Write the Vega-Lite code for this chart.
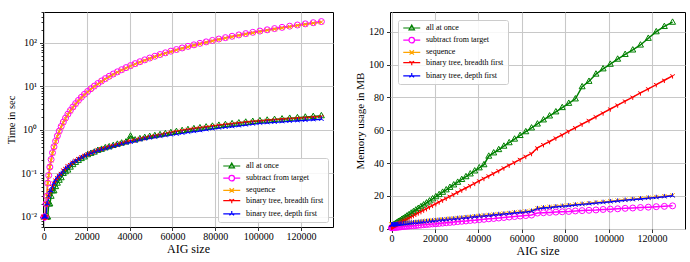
{
  "$schema": "https://vega.github.io/schema/vega-lite/v6.json",
  "padding": {"left": 6, "top": 6, "right": 4, "bottom": 4},
  "spacing": 20,
  "config": {
    "font": "Liberation Serif",
    "view": {"stroke": "#000000", "strokeWidth": 1},
    "axis": {
      "labelFont": "Liberation Serif", "titleFont": "Liberation Serif",
      "labelFontSize": 10, "titleFontSize": 12, "titleFontWeight": "normal",
      "labelColor": "#000000", "titleColor": "#000000",
      "tickColor": "#000000", "tickSize": 3.5, "tickWidth": 0.8,
      "domain": false, "gridColor": "#c8c8c8", "gridWidth": 1.1,
      "labelFlush": false, "labelOverlap": false
    },
    "axisX": {"labelPadding": 1, "titlePadding": 1.5},
    "axisY": {"labelPadding": 3, "titlePadding": 4},
    "legend": {
      "labelFont": "Liberation Serif", "labelFontSize": 8, "labelColor": "#000000",
      "symbolSize": 30, "symbolStrokeWidth": 1.2, "rowPadding": 1.2, "padding": 4,
      "labelOffset": 16, "strokeColor": "#cccccc", "fillColor": "rgba(255,255,255,0.85)",
      "cornerRadius": 2
    }
  },
  "resolve": {"scale": {"color": "independent"}},
  "datasets": {
    "time": [
      {"size": 28, "all at once": 0.01, "subtract from target": 0.01, "sequence": 0.01, "binary tree, breadth first": 0.01, "binary tree, depth first": 0.01},
      {"size": 112, "all at once": 0.01, "subtract from target": 0.01, "sequence": 0.01, "binary tree, breadth first": 0.01, "binary tree, depth first": 0.01},
      {"size": 252, "all at once": 0.01, "subtract from target": 0.01, "sequence": 0.01, "binary tree, breadth first": 0.01, "binary tree, depth first": 0.01},
      {"size": 448, "all at once": 0.01, "subtract from target": 0.01, "sequence": 0.01, "binary tree, breadth first": 0.01, "binary tree, depth first": 0.01},
      {"size": 700, "all at once": 0.01, "subtract from target": 0.01, "sequence": 0.01, "binary tree, breadth first": 0.01, "binary tree, depth first": 0.01},
      {"size": 1008, "all at once": 0.01, "subtract from target": 0.02, "sequence": 0.02, "binary tree, breadth first": 0.01, "binary tree, depth first": 0.01},
      {"size": 1372, "all at once": 0.01, "subtract from target": 0.03, "sequence": 0.03, "binary tree, breadth first": 0.02, "binary tree, depth first": 0.02},
      {"size": 1792, "all at once": 0.01, "subtract from target": 0.06, "sequence": 0.06, "binary tree, breadth first": 0.02, "binary tree, depth first": 0.02},
      {"size": 2268, "all at once": 0.02, "subtract from target": 0.09, "sequence": 0.09, "binary tree, breadth first": 0.03, "binary tree, depth first": 0.03},
      {"size": 2800, "all at once": 0.02, "subtract from target": 0.14, "sequence": 0.14, "binary tree, breadth first": 0.04, "binary tree, depth first": 0.04},
      {"size": 3388, "all at once": 0.03, "subtract from target": 0.21, "sequence": 0.2, "binary tree, breadth first": 0.04, "binary tree, depth first": 0.04},
      {"size": 4032, "all at once": 0.04, "subtract from target": 0.3, "sequence": 0.29, "binary tree, breadth first": 0.05, "binary tree, depth first": 0.05},
      {"size": 4732, "all at once": 0.04, "subtract from target": 0.41, "sequence": 0.4, "binary tree, breadth first": 0.06, "binary tree, depth first": 0.06},
      {"size": 5488, "all at once": 0.05, "subtract from target": 0.55, "sequence": 0.53, "binary tree, breadth first": 0.07, "binary tree, depth first": 0.07},
      {"size": 6300, "all at once": 0.06, "subtract from target": 0.73, "sequence": 0.7, "binary tree, breadth first": 0.08, "binary tree, depth first": 0.08},
      {"size": 7168, "all at once": 0.07, "subtract from target": 0.94, "sequence": 0.91, "binary tree, breadth first": 0.09, "binary tree, depth first": 0.09},
      {"size": 8092, "all at once": 0.08, "subtract from target": 1.2, "sequence": 1.16, "binary tree, breadth first": 0.1, "binary tree, depth first": 0.1},
      {"size": 9072, "all at once": 0.1, "subtract from target": 1.51, "sequence": 1.46, "binary tree, breadth first": 0.12, "binary tree, depth first": 0.11},
      {"size": 10108, "all at once": 0.11, "subtract from target": 1.87, "sequence": 1.81, "binary tree, breadth first": 0.13, "binary tree, depth first": 0.13},
      {"size": 11200, "all at once": 0.12, "subtract from target": 2.3, "sequence": 2.23, "binary tree, breadth first": 0.15, "binary tree, depth first": 0.14},
      {"size": 12348, "all at once": 0.14, "subtract from target": 2.79, "sequence": 2.7, "binary tree, breadth first": 0.16, "binary tree, depth first": 0.16},
      {"size": 13552, "all at once": 0.16, "subtract from target": 3.36, "sequence": 3.26, "binary tree, breadth first": 0.18, "binary tree, depth first": 0.18},
      {"size": 14812, "all at once": 0.18, "subtract from target": 4.02, "sequence": 3.9, "binary tree, breadth first": 0.2, "binary tree, depth first": 0.19},
      {"size": 16128, "all at once": 0.2, "subtract from target": 4.76, "sequence": 4.62, "binary tree, breadth first": 0.22, "binary tree, depth first": 0.21},
      {"size": 17500, "all at once": 0.22, "subtract from target": 5.61, "sequence": 5.44, "binary tree, breadth first": 0.24, "binary tree, depth first": 0.23},
      {"size": 18928, "all at once": 0.24, "subtract from target": 6.56, "sequence": 6.36, "binary tree, breadth first": 0.26, "binary tree, depth first": 0.25},
      {"size": 20412, "all at once": 0.27, "subtract from target": 7.63, "sequence": 7.4, "binary tree, breadth first": 0.28, "binary tree, depth first": 0.27},
      {"size": 21952, "all at once": 0.29, "subtract from target": 8.82, "sequence": 8.56, "binary tree, breadth first": 0.3, "binary tree, depth first": 0.29},
      {"size": 23548, "all at once": 0.31, "subtract from target": 10.15, "sequence": 9.85, "binary tree, breadth first": 0.32, "binary tree, depth first": 0.31},
      {"size": 25200, "all at once": 0.34, "subtract from target": 11.62, "sequence": 11.27, "binary tree, breadth first": 0.35, "binary tree, depth first": 0.33},
      {"size": 26908, "all at once": 0.36, "subtract from target": 13.25, "sequence": 12.85, "binary tree, breadth first": 0.37, "binary tree, depth first": 0.35},
      {"size": 28672, "all at once": 0.39, "subtract from target": 15.05, "sequence": 14.6, "binary tree, breadth first": 0.39, "binary tree, depth first": 0.37},
      {"size": 30492, "all at once": 0.41, "subtract from target": 17.02, "sequence": 16.51, "binary tree, breadth first": 0.42, "binary tree, depth first": 0.39},
      {"size": 32368, "all at once": 0.44, "subtract from target": 19.18, "sequence": 18.6, "binary tree, breadth first": 0.44, "binary tree, depth first": 0.42},
      {"size": 34300, "all at once": 0.47, "subtract from target": 21.53, "sequence": 20.88, "binary tree, breadth first": 0.47, "binary tree, depth first": 0.44},
      {"size": 36288, "all at once": 0.5, "subtract from target": 24.1, "sequence": 23.38, "binary tree, breadth first": 0.5, "binary tree, depth first": 0.47},
      {"size": 38332, "all at once": 0.53, "subtract from target": 26.89, "sequence": 26.08, "binary tree, breadth first": 0.53, "binary tree, depth first": 0.5},
      {"size": 40432, "all at once": 0.72, "subtract from target": 29.92, "sequence": 29.02, "binary tree, breadth first": 0.56, "binary tree, depth first": 0.52},
      {"size": 42588, "all at once": 0.59, "subtract from target": 33.2, "sequence": 32.2, "binary tree, breadth first": 0.59, "binary tree, depth first": 0.55},
      {"size": 44800, "all at once": 0.63, "subtract from target": 36.74, "sequence": 35.64, "binary tree, breadth first": 0.63, "binary tree, depth first": 0.59},
      {"size": 47068, "all at once": 0.67, "subtract from target": 40.55, "sequence": 39.33, "binary tree, breadth first": 0.66, "binary tree, depth first": 0.62},
      {"size": 49392, "all at once": 0.71, "subtract from target": 44.65, "sequence": 43.31, "binary tree, breadth first": 0.7, "binary tree, depth first": 0.65},
      {"size": 51772, "all at once": 0.74, "subtract from target": 49.06, "sequence": 47.59, "binary tree, breadth first": 0.73, "binary tree, depth first": 0.68},
      {"size": 54208, "all at once": 0.78, "subtract from target": 53.79, "sequence": 52.18, "binary tree, breadth first": 0.77, "binary tree, depth first": 0.71},
      {"size": 56700, "all at once": 0.82, "subtract from target": 58.84, "sequence": 57.07, "binary tree, breadth first": 0.82, "binary tree, depth first": 0.74},
      {"size": 59248, "all at once": 0.87, "subtract from target": 64.25, "sequence": 62.32, "binary tree, breadth first": 0.87, "binary tree, depth first": 0.77},
      {"size": 61852, "all at once": 0.92, "subtract from target": 70.02, "sequence": 67.92, "binary tree, breadth first": 0.92, "binary tree, depth first": 0.8},
      {"size": 64512, "all at once": 0.97, "subtract from target": 76.18, "sequence": 73.9, "binary tree, breadth first": 0.97, "binary tree, depth first": 0.84},
      {"size": 67228, "all at once": 1.02, "subtract from target": 82.72, "sequence": 80.24, "binary tree, breadth first": 1.02, "binary tree, depth first": 0.88},
      {"size": 70000, "all at once": 1.07, "subtract from target": 89.69, "sequence": 87.0, "binary tree, breadth first": 1.07, "binary tree, depth first": 0.92},
      {"size": 72828, "all at once": 1.12, "subtract from target": 97.08, "sequence": 94.17, "binary tree, breadth first": 1.12, "binary tree, depth first": 0.96},
      {"size": 75712, "all at once": 1.17, "subtract from target": 104.9, "sequence": 101.8, "binary tree, breadth first": 1.17, "binary tree, depth first": 1.01},
      {"size": 78652, "all at once": 1.22, "subtract from target": 113.2, "sequence": 109.8, "binary tree, breadth first": 1.22, "binary tree, depth first": 1.06},
      {"size": 81648, "all at once": 1.28, "subtract from target": 122.0, "sequence": 118.3, "binary tree, breadth first": 1.27, "binary tree, depth first": 1.11},
      {"size": 84700, "all at once": 1.33, "subtract from target": 131.3, "sequence": 127.4, "binary tree, breadth first": 1.33, "binary tree, depth first": 1.15},
      {"size": 87808, "all at once": 1.39, "subtract from target": 141.1, "sequence": 136.9, "binary tree, breadth first": 1.38, "binary tree, depth first": 1.19},
      {"size": 90972, "all at once": 1.45, "subtract from target": 151.5, "sequence": 147.0, "binary tree, breadth first": 1.44, "binary tree, depth first": 1.24},
      {"size": 94192, "all at once": 1.51, "subtract from target": 162.4, "sequence": 157.5, "binary tree, breadth first": 1.5, "binary tree, depth first": 1.3},
      {"size": 97468, "all at once": 1.57, "subtract from target": 173.9, "sequence": 168.7, "binary tree, breadth first": 1.55, "binary tree, depth first": 1.36},
      {"size": 100800, "all at once": 1.63, "subtract from target": 186.0, "sequence": 180.4, "binary tree, breadth first": 1.6, "binary tree, depth first": 1.42},
      {"size": 104188, "all at once": 1.68, "subtract from target": 198.7, "sequence": 192.7, "binary tree, breadth first": 1.65, "binary tree, depth first": 1.46},
      {"size": 107632, "all at once": 1.74, "subtract from target": 212.0, "sequence": 205.6, "binary tree, breadth first": 1.7, "binary tree, depth first": 1.5},
      {"size": 111132, "all at once": 1.79, "subtract from target": 226.1, "sequence": 219.3, "binary tree, breadth first": 1.75, "binary tree, depth first": 1.54},
      {"size": 114688, "all at once": 1.85, "subtract from target": 240.8, "sequence": 233.6, "binary tree, breadth first": 1.8, "binary tree, depth first": 1.58},
      {"size": 118300, "all at once": 1.91, "subtract from target": 256.2, "sequence": 248.5, "binary tree, breadth first": 1.85, "binary tree, depth first": 1.62},
      {"size": 121968, "all at once": 1.97, "subtract from target": 272.3, "sequence": 264.1, "binary tree, breadth first": 1.9, "binary tree, depth first": 1.66},
      {"size": 125692, "all at once": 2.04, "subtract from target": 289.2, "sequence": 280.5, "binary tree, breadth first": 1.96, "binary tree, depth first": 1.71},
      {"size": 129472, "all at once": 2.12, "subtract from target": 306.8, "sequence": 297.6, "binary tree, breadth first": 2.02, "binary tree, depth first": 1.76}
    ],
    "memory": [
      {"size": 28, "all at once": 1.5, "subtract from target": 0.6, "sequence": 2.4, "binary tree, breadth first": 1.0, "binary tree, depth first": 2.2},
      {"size": 112, "all at once": 1.6, "subtract from target": 0.6, "sequence": 2.4, "binary tree, breadth first": 1.1, "binary tree, depth first": 2.2},
      {"size": 252, "all at once": 1.7, "subtract from target": 0.6, "sequence": 2.4, "binary tree, breadth first": 1.2, "binary tree, depth first": 2.2},
      {"size": 448, "all at once": 1.9, "subtract from target": 0.7, "sequence": 2.5, "binary tree, breadth first": 1.3, "binary tree, depth first": 2.3},
      {"size": 700, "all at once": 2.1, "subtract from target": 0.7, "sequence": 2.5, "binary tree, breadth first": 1.5, "binary tree, depth first": 2.3},
      {"size": 1008, "all at once": 2.4, "subtract from target": 0.7, "sequence": 2.6, "binary tree, breadth first": 1.7, "binary tree, depth first": 2.3},
      {"size": 1372, "all at once": 2.7, "subtract from target": 0.8, "sequence": 2.7, "binary tree, breadth first": 2.0, "binary tree, depth first": 2.4},
      {"size": 1792, "all at once": 3.1, "subtract from target": 0.8, "sequence": 2.7, "binary tree, breadth first": 2.2, "binary tree, depth first": 2.4},
      {"size": 2268, "all at once": 3.5, "subtract from target": 0.9, "sequence": 2.8, "binary tree, breadth first": 2.6, "binary tree, depth first": 2.5},
      {"size": 2800, "all at once": 4.0, "subtract from target": 0.9, "sequence": 2.9, "binary tree, breadth first": 2.9, "binary tree, depth first": 2.6},
      {"size": 3388, "all at once": 4.5, "subtract from target": 1.0, "sequence": 2.9, "binary tree, breadth first": 3.4, "binary tree, depth first": 2.6},
      {"size": 4032, "all at once": 5.0, "subtract from target": 1.1, "sequence": 3.0, "binary tree, breadth first": 3.8, "binary tree, depth first": 2.7},
      {"size": 4732, "all at once": 5.7, "subtract from target": 1.2, "sequence": 3.1, "binary tree, breadth first": 4.3, "binary tree, depth first": 2.8},
      {"size": 5488, "all at once": 6.3, "subtract from target": 1.3, "sequence": 3.2, "binary tree, breadth first": 4.8, "binary tree, depth first": 2.9},
      {"size": 6300, "all at once": 7.0, "subtract from target": 1.4, "sequence": 3.3, "binary tree, breadth first": 5.4, "binary tree, depth first": 3.0},
      {"size": 7168, "all at once": 7.8, "subtract from target": 1.5, "sequence": 3.4, "binary tree, breadth first": 6.0, "binary tree, depth first": 3.1},
      {"size": 8092, "all at once": 8.6, "subtract from target": 1.6, "sequence": 3.6, "binary tree, breadth first": 6.6, "binary tree, depth first": 3.3},
      {"size": 9072, "all at once": 9.5, "subtract from target": 1.7, "sequence": 3.7, "binary tree, breadth first": 7.3, "binary tree, depth first": 3.4},
      {"size": 10108, "all at once": 10.4, "subtract from target": 1.8, "sequence": 3.8, "binary tree, breadth first": 8.0, "binary tree, depth first": 3.5},
      {"size": 11200, "all at once": 11.4, "subtract from target": 1.9, "sequence": 4.0, "binary tree, breadth first": 8.8, "binary tree, depth first": 3.7},
      {"size": 12348, "all at once": 12.4, "subtract from target": 2.1, "sequence": 4.1, "binary tree, breadth first": 9.6, "binary tree, depth first": 3.8},
      {"size": 13552, "all at once": 13.4, "subtract from target": 2.2, "sequence": 4.3, "binary tree, breadth first": 10.4, "binary tree, depth first": 4.0},
      {"size": 14812, "all at once": 14.5, "subtract from target": 2.4, "sequence": 4.4, "binary tree, breadth first": 11.3, "binary tree, depth first": 4.1},
      {"size": 16128, "all at once": 15.7, "subtract from target": 2.5, "sequence": 4.6, "binary tree, breadth first": 12.2, "binary tree, depth first": 4.3},
      {"size": 17500, "all at once": 16.9, "subtract from target": 2.7, "sequence": 4.8, "binary tree, breadth first": 13.2, "binary tree, depth first": 4.5},
      {"size": 18928, "all at once": 18.2, "subtract from target": 2.9, "sequence": 5.0, "binary tree, breadth first": 14.2, "binary tree, depth first": 4.7},
      {"size": 20412, "all at once": 19.5, "subtract from target": 3.0, "sequence": 5.2, "binary tree, breadth first": 15.2, "binary tree, depth first": 4.9},
      {"size": 21952, "all at once": 20.8, "subtract from target": 3.2, "sequence": 5.4, "binary tree, breadth first": 16.3, "binary tree, depth first": 5.1},
      {"size": 23548, "all at once": 22.2, "subtract from target": 3.4, "sequence": 5.6, "binary tree, breadth first": 17.4, "binary tree, depth first": 5.3},
      {"size": 25200, "all at once": 23.7, "subtract from target": 3.6, "sequence": 5.8, "binary tree, breadth first": 18.5, "binary tree, depth first": 5.5},
      {"size": 26908, "all at once": 25.2, "subtract from target": 3.8, "sequence": 6.0, "binary tree, breadth first": 19.7, "binary tree, depth first": 5.7},
      {"size": 28672, "all at once": 26.7, "subtract from target": 4.0, "sequence": 6.2, "binary tree, breadth first": 20.9, "binary tree, depth first": 5.9},
      {"size": 30492, "all at once": 28.3, "subtract from target": 4.3, "sequence": 6.5, "binary tree, breadth first": 22.2, "binary tree, depth first": 6.2},
      {"size": 32368, "all at once": 30.0, "subtract from target": 4.5, "sequence": 6.7, "binary tree, breadth first": 23.5, "binary tree, depth first": 6.4},
      {"size": 34300, "all at once": 31.7, "subtract from target": 4.7, "sequence": 7.0, "binary tree, breadth first": 24.8, "binary tree, depth first": 6.7},
      {"size": 36288, "all at once": 33.4, "subtract from target": 5.0, "sequence": 7.2, "binary tree, breadth first": 26.2, "binary tree, depth first": 6.9},
      {"size": 38332, "all at once": 35.2, "subtract from target": 5.2, "sequence": 7.5, "binary tree, breadth first": 27.6, "binary tree, depth first": 7.2},
      {"size": 40432, "all at once": 37.1, "subtract from target": 5.5, "sequence": 7.8, "binary tree, breadth first": 29.1, "binary tree, depth first": 7.5},
      {"size": 42588, "all at once": 39.0, "subtract from target": 5.7, "sequence": 8.0, "binary tree, breadth first": 30.6, "binary tree, depth first": 7.7},
      {"size": 44800, "all at once": 44.2, "subtract from target": 6.0, "sequence": 8.3, "binary tree, breadth first": 32.1, "binary tree, depth first": 8.0},
      {"size": 47068, "all at once": 46.2, "subtract from target": 6.2, "sequence": 8.6, "binary tree, breadth first": 33.7, "binary tree, depth first": 8.3},
      {"size": 49392, "all at once": 48.2, "subtract from target": 6.5, "sequence": 8.9, "binary tree, breadth first": 35.3, "binary tree, depth first": 8.6},
      {"size": 51772, "all at once": 50.3, "subtract from target": 6.8, "sequence": 9.2, "binary tree, breadth first": 37.0, "binary tree, depth first": 8.9},
      {"size": 54208, "all at once": 52.4, "subtract from target": 7.1, "sequence": 9.5, "binary tree, breadth first": 38.7, "binary tree, depth first": 9.2},
      {"size": 56700, "all at once": 54.6, "subtract from target": 7.4, "sequence": 9.9, "binary tree, breadth first": 40.4, "binary tree, depth first": 9.6},
      {"size": 59248, "all at once": 56.8, "subtract from target": 7.7, "sequence": 10.2, "binary tree, breadth first": 42.2, "binary tree, depth first": 9.9},
      {"size": 61852, "all at once": 59.1, "subtract from target": 8.0, "sequence": 10.5, "binary tree, breadth first": 44.0, "binary tree, depth first": 10.2},
      {"size": 64512, "all at once": 61.4, "subtract from target": 8.3, "sequence": 10.9, "binary tree, breadth first": 45.8, "binary tree, depth first": 10.6},
      {"size": 67228, "all at once": 63.8, "subtract from target": 9.5, "sequence": 12.5, "binary tree, breadth first": 49.2, "binary tree, depth first": 12.2},
      {"size": 70000, "all at once": 66.3, "subtract from target": 9.7, "sequence": 12.9, "binary tree, breadth first": 51.2, "binary tree, depth first": 12.6},
      {"size": 72828, "all at once": 68.7, "subtract from target": 9.9, "sequence": 13.2, "binary tree, breadth first": 53.1, "binary tree, depth first": 12.9},
      {"size": 75712, "all at once": 71.2, "subtract from target": 10.1, "sequence": 13.6, "binary tree, breadth first": 55.2, "binary tree, depth first": 13.3},
      {"size": 78652, "all at once": 73.8, "subtract from target": 10.3, "sequence": 13.9, "binary tree, breadth first": 57.2, "binary tree, depth first": 13.6},
      {"size": 81648, "all at once": 76.4, "subtract from target": 10.5, "sequence": 14.3, "binary tree, breadth first": 59.4, "binary tree, depth first": 14.0},
      {"size": 84700, "all at once": 79.1, "subtract from target": 10.8, "sequence": 14.7, "binary tree, breadth first": 61.5, "binary tree, depth first": 14.4},
      {"size": 87808, "all at once": 86.5, "subtract from target": 11.0, "sequence": 15.1, "binary tree, breadth first": 63.7, "binary tree, depth first": 14.8},
      {"size": 90972, "all at once": 89.8, "subtract from target": 11.2, "sequence": 15.5, "binary tree, breadth first": 65.9, "binary tree, depth first": 15.2},
      {"size": 94192, "all at once": 94.2, "subtract from target": 11.4, "sequence": 15.9, "binary tree, breadth first": 68.2, "binary tree, depth first": 15.6},
      {"size": 97468, "all at once": 97.4, "subtract from target": 11.7, "sequence": 16.3, "binary tree, breadth first": 70.5, "binary tree, depth first": 16.0},
      {"size": 100800, "all at once": 100.2, "subtract from target": 11.9, "sequence": 16.7, "binary tree, breadth first": 72.9, "binary tree, depth first": 16.4},
      {"size": 104188, "all at once": 103.3, "subtract from target": 12.1, "sequence": 17.1, "binary tree, breadth first": 75.3, "binary tree, depth first": 16.8},
      {"size": 107632, "all at once": 106.2, "subtract from target": 12.4, "sequence": 17.6, "binary tree, breadth first": 77.7, "binary tree, depth first": 17.3},
      {"size": 111132, "all at once": 108.9, "subtract from target": 12.6, "sequence": 18.0, "binary tree, breadth first": 80.1, "binary tree, depth first": 17.7},
      {"size": 114688, "all at once": 111.9, "subtract from target": 12.9, "sequence": 18.4, "binary tree, breadth first": 82.7, "binary tree, depth first": 18.1},
      {"size": 118300, "all at once": 116.0, "subtract from target": 13.1, "sequence": 18.9, "binary tree, breadth first": 85.2, "binary tree, depth first": 18.6},
      {"size": 121968, "all at once": 120.0, "subtract from target": 13.4, "sequence": 19.3, "binary tree, breadth first": 87.8, "binary tree, depth first": 19.0},
      {"size": 125692, "all at once": 123.2, "subtract from target": 13.6, "sequence": 19.8, "binary tree, breadth first": 90.4, "binary tree, depth first": 19.5},
      {"size": 129472, "all at once": 125.8, "subtract from target": 13.9, "sequence": 20.3, "binary tree, breadth first": 93.1, "binary tree, depth first": 20.0}
    ]
  },
  "hconcat": [
    {
      "width": 290,
      "height": 215,
      "data": {"name": "time"},
      "transform": [{"fold": ["all at once", "subtract from target", "sequence", "binary tree, breadth first", "binary tree, depth first"], "as": ["series", "t"]}],
      "encoding": {
        "x": {"field": "size", "type": "quantitative", "title": "AIG size",
          "scale": {"domain": [-400, 134900], "nice": false, "zero": false},
          "axis": {"values": [0, 20000, 40000, 60000, 80000, 100000, 120000], "format": "d"}},
        "y": {"field": "t", "type": "quantitative", "title": "Time in sec",
          "scale": {"type": "log", "domain": [0.00589, 509], "nice": false},
          "axis": {
            "titleFontSize": 10.5,
            "values": [0.006, 0.007, 0.008, 0.009, 0.01, 0.02, 0.03, 0.04, 0.05, 0.06, 0.07, 0.08, 0.09, 0.1, 0.2, 0.3, 0.4, 0.5, 0.6, 0.7, 0.8, 0.9, 1, 2, 3, 4, 5, 6, 7, 8, 9, 10, 20, 30, 40, 50, 60, 70, 80, 90, 100, 200, 300, 400, 500],
            "labelExpr": "datum.value == 0.01 ? '10⁻²' : datum.value == 0.1 ? '10⁻¹' : datum.value == 1 ? '10⁰' : datum.value == 10 ? '10¹' : datum.value == 100 ? '10²' : ''",
            "tickSize": {"condition": {"test": "abs(log(datum.value)/LN10 - round(log(datum.value)/LN10)) < 0.001", "value": 3.5}, "value": 2},
            "gridOpacity": {"condition": {"test": "abs(log(datum.value)/LN10 - round(log(datum.value)/LN10)) < 0.001", "value": 1}, "value": 0}
          }},
        "color": {"field": "series", "type": "nominal",
          "scale": {"domain": ["all at once", "subtract from target", "sequence", "binary tree, breadth first", "binary tree, depth first"], "range": ["#008000", "#ff00ff", "#ffa500", "#ff0000", "#0000ff"]},
          "legend": {"title": null, "orient": "bottom-right", "offset": 5,
            "encode": {"symbols": {"update": {
              "fill": {"value": "transparent"},
              "strokeWidth": {"value": 1.2},
              "opacity": {"value": 1},
              "shape": {"signal": "datum.value === 'all at once' ? 'M-1,0L5.2,0M2.1,-1.1L3.1,0.7L1.1,0.7Z' : datum.value === 'subtract from target' ? 'M-1,0L1.1,0M3.1,0L5.2,0M3.1,0A1,1,0,1,1,1.1,0A1,1,0,1,1,3.1,0' : datum.value === 'sequence' ? 'M-1,0L5.2,0M1.3,-0.8L2.9,0.8M1.3,0.8L2.9,-0.8' : datum.value === 'binary tree, breadth first' ? 'M-1,0L5.2,0M2.1,0L2.1,1M2.1,0L1.23,-0.5M2.1,0L2.97,-0.5' : 'M-1,0L5.2,0M2.1,0L2.1,-1M2.1,0L1.23,0.5M2.1,0L2.97,0.5'"}}}}}}
      },
      "layer": [
        {"mark": {"type": "line", "strokeWidth": 1.5}},
        {"transform": [{"filter": "datum.series === 'all at once'"}], "mark": {"type": "point", "shape": "M0,-1.1L1,0.7L-1,0.7Z", "filled": false, "fillOpacity": 0, "size": 36, "strokeWidth": 1, "opacity": 1}},
        {"transform": [{"filter": "datum.series === 'subtract from target'"}], "mark": {"type": "point", "shape": "circle", "filled": false, "fillOpacity": 0, "size": 36, "strokeWidth": 1, "opacity": 1}},
        {"transform": [{"filter": "datum.series === 'sequence'"}], "mark": {"type": "point", "shape": "M-0.8,-0.8L0.8,0.8M-0.8,0.8L0.8,-0.8", "filled": false, "fillOpacity": 0, "size": 30, "strokeWidth": 1, "opacity": 1}},
        {"transform": [{"filter": "datum.series === 'binary tree, breadth first'"}], "mark": {"type": "point", "shape": "M0,0L0,1M0,0L-0.87,-0.5M0,0L0.87,-0.5", "filled": false, "fillOpacity": 0, "size": 30, "strokeWidth": 1, "opacity": 1}},
        {"transform": [{"filter": "datum.series === 'binary tree, depth first'"}], "mark": {"type": "point", "shape": "M0,0L0,-1M0,0L-0.87,0.5M0,0L0.87,0.5", "filled": false, "fillOpacity": 0, "size": 30, "strokeWidth": 1, "opacity": 1}}
      ]
    },
    {
      "width": 295,
      "height": 217,
      "data": {"name": "memory"},
      "transform": [{"fold": ["all at once", "subtract from target", "sequence", "binary tree, breadth first", "binary tree, depth first"], "as": ["series", "m"]}],
      "encoding": {
        "x": {"field": "size", "type": "quantitative", "title": "AIG size",
          "scale": {"domain": [-700, 135200], "nice": false, "zero": false},
          "axis": {"values": [0, 20000, 40000, 60000, 80000, 100000, 120000], "format": "d"}},
        "y": {"field": "m", "type": "quantitative", "title": "Memory usage in MB",
          "scale": {"domain": [-0.2, 132], "nice": false, "zero": false},
          "axis": {"values": [0, 20, 40, 60, 80, 100, 120], "titleFontSize": 11, "titlePadding": 3}},
        "color": {"field": "series", "type": "nominal",
          "scale": {"domain": ["all at once", "subtract from target", "sequence", "binary tree, breadth first", "binary tree, depth first"], "range": ["#008000", "#ff00ff", "#ffa500", "#ff0000", "#0000ff"]},
          "legend": {"title": null, "orient": "top-left", "offset": 8,
            "encode": {"symbols": {"update": {
              "fill": {"value": "transparent"},
              "strokeWidth": {"value": 1.2},
              "opacity": {"value": 1},
              "shape": {"signal": "datum.value === 'all at once' ? 'M-1,0L5.2,0M2.1,-1.1L3.1,0.7L1.1,0.7Z' : datum.value === 'subtract from target' ? 'M-1,0L1.1,0M3.1,0L5.2,0M3.1,0A1,1,0,1,1,1.1,0A1,1,0,1,1,3.1,0' : datum.value === 'sequence' ? 'M-1,0L5.2,0M1.3,-0.8L2.9,0.8M1.3,0.8L2.9,-0.8' : datum.value === 'binary tree, breadth first' ? 'M-1,0L5.2,0M2.1,0L2.1,1M2.1,0L1.23,-0.5M2.1,0L2.97,-0.5' : 'M-1,0L5.2,0M2.1,0L2.1,-1M2.1,0L1.23,0.5M2.1,0L2.97,0.5'"}}}}}}
      },
      "layer": [
        {"mark": {"type": "line", "strokeWidth": 1.5}},
        {"transform": [{"filter": "datum.series === 'all at once'"}], "mark": {"type": "point", "shape": "M0,-1.1L1,0.7L-1,0.7Z", "filled": false, "fillOpacity": 0, "size": 36, "strokeWidth": 1, "opacity": 1}},
        {"transform": [{"filter": "datum.series === 'subtract from target'"}], "mark": {"type": "point", "shape": "circle", "filled": false, "fillOpacity": 0, "size": 36, "strokeWidth": 1, "opacity": 1}},
        {"transform": [{"filter": "datum.series === 'sequence'"}], "mark": {"type": "point", "shape": "M-0.8,-0.8L0.8,0.8M-0.8,0.8L0.8,-0.8", "filled": false, "fillOpacity": 0, "size": 30, "strokeWidth": 1, "opacity": 1}},
        {"transform": [{"filter": "datum.series === 'binary tree, breadth first'"}], "mark": {"type": "point", "shape": "M0,0L0,1M0,0L-0.87,-0.5M0,0L0.87,-0.5", "filled": false, "fillOpacity": 0, "size": 30, "strokeWidth": 1, "opacity": 1}},
        {"transform": [{"filter": "datum.series === 'binary tree, depth first'"}], "mark": {"type": "point", "shape": "M0,0L0,-1M0,0L-0.87,0.5M0,0L0.87,0.5", "filled": false, "fillOpacity": 0, "size": 30, "strokeWidth": 1, "opacity": 1}}
      ]
    }
  ]
}
